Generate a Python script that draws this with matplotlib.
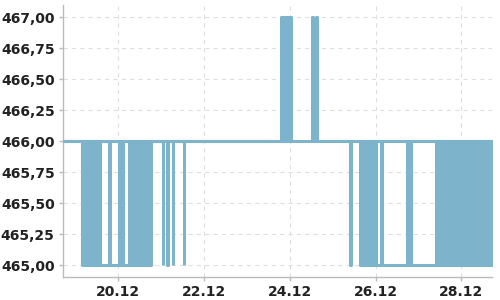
import numpy as np
import pandas as pd
import matplotlib
matplotlib.use('Agg')
import matplotlib.pyplot as plt
import matplotlib.dates as mdates
from matplotlib.ticker import FuncFormatter

BASE = pd.Timestamp('2023-12-01')

def to_date(day):
    return BASE + pd.to_timedelta(np.asarray(day, dtype=float) - 1, unit='D')

# price path as segments (day of December). low == high -> flat stretch,
# low != high -> price flipping between the two levels the whole time
seg_start = [18.70, 19.153, 19.562, 19.794, 19.804, 20.012, 20.121, 20.261,
             20.751, 21.031, 21.147, 21.271, 21.527, 23.806, 24.524, 24.618,
             25.393, 25.626, 26.022, 26.134, 26.144, 26.722, 26.838, 27.421]
seg_end = [19.153, 19.562, 19.794, 19.804, 20.012, 20.121, 20.261, 20.751,
           23.806, 21.041, 21.157, 21.281, 21.537, 24.028, 24.534, 24.628,
           25.416, 26.022, 26.134, 26.144, 26.722, 26.838, 27.421, 28.75]
seg_low = [466, 465, 465, 465, 465, 465, 465, 465,
           466, 465, 465, 465, 465, 466, 466, 466,
           465, 465, 465, 465, 465, 465, 465, 465]
seg_high = [466, 466, 465, 466, 465, 466, 465, 466,
            466, 466, 466, 466, 466, 467, 467, 467,
            466, 466, 465, 466, 465, 466, 465, 466]

ref_level = 466.0
ref_span = [18.70, 28.75]

x_ticks = [20, 22, 24, 26, 28]
x_lim = [18.710, 28.716]
y_ticks = [465.0, 465.25, 465.5, 465.75, 466.0, 466.25, 466.5, 466.75, 467.0]
y_lim = [464.906, 467.093]

color = '#7eb3cc'
lw = 2.2

fig = plt.figure(figsize=(5, 3), dpi=100)
ax = fig.add_axes([0.126, 0.0767, 0.858, 0.905])

ax.plot(to_date(ref_span), [ref_level, ref_level], color=color, lw=lw,
        solid_capstyle='butt', zorder=3)

for s, e, lo, hi in zip(seg_start, seg_end, seg_low, seg_high):
    xs = to_date([s, e])
    if lo == hi:
        ax.plot(xs, [lo, lo], color=color, lw=lw, solid_capstyle='butt', zorder=3)
    else:
        ax.fill_between(xs, lo, hi, facecolor=color, edgecolor=color,
                        lw=lw, zorder=3)

ax.set_xlim(to_date(x_lim))
ax.set_ylim(y_lim)
ax.set_xticks(to_date(x_ticks))
ax.xaxis.set_major_formatter(mdates.DateFormatter('%d.%m'))
ax.set_yticks(y_ticks)
ax.yaxis.set_major_formatter(FuncFormatter(lambda v, p: f'{v:.2f}'.replace('.', ',')))

ax.grid(True, color='#dddddd', lw=0.75, linestyle=(0, (4, 4)), zorder=0)
for side in ['top', 'right']:
    ax.spines[side].set_visible(False)
for side in ['left', 'bottom']:
    ax.spines[side].set_color('#bbbbbb')
    ax.spines[side].set_linewidth(1.0)
ax.tick_params(length=3, width=1, color='#bbbbbb', labelcolor='#222222',
               labelsize=10)
ax.tick_params(axis='x', pad=2.5)
ax.tick_params(axis='y', pad=3)
for lab in ax.get_xticklabels() + ax.get_yticklabels():
    lab.set_fontweight('bold')

fig.savefig('out.png', dpi=100)
